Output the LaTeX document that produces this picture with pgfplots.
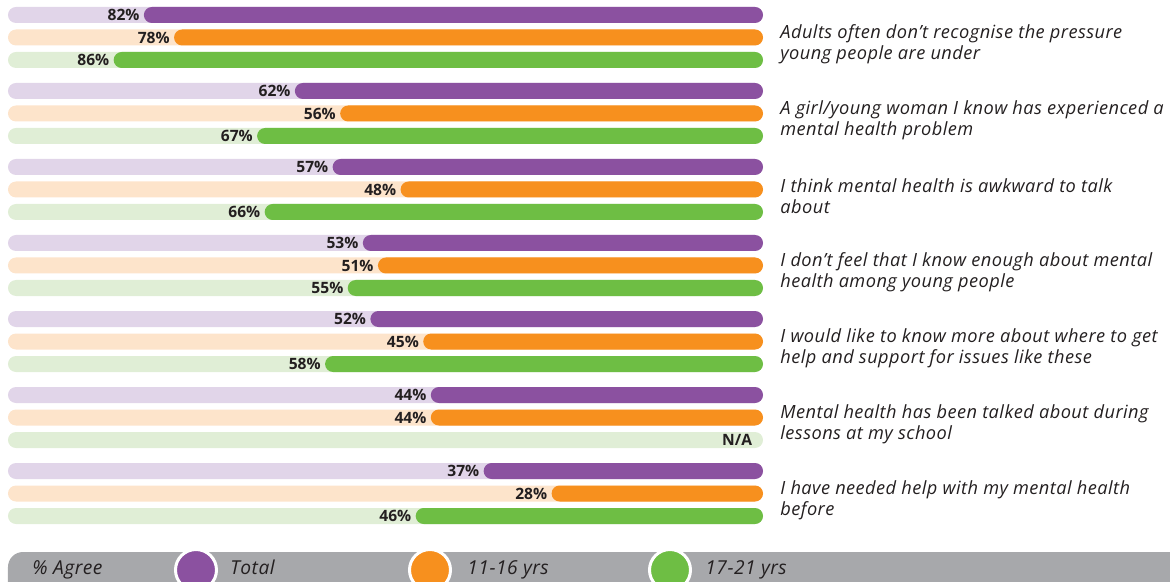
\documentclass[border=0pt]{standalone}
\usepackage{pgfplots}
\usepackage{pgfplotstable}
\pgfplotsset{compat=1.18}
\usepackage{fontspec}
\setmainfont{Open Sans}
\definecolor{cTot}{HTML}{8B51A0}
\definecolor{cYng}{HTML}{F7901E}
\definecolor{cOld}{HTML}{6EBE44}
\definecolor{lTot}{HTML}{E1D5E9}
\definecolor{lYng}{HTML}{FDE4CB}
\definecolor{lOld}{HTML}{E0EED6}
\definecolor{legGray}{HTML}{A7A8AB}
\definecolor{txt}{HTML}{231F20}

\tikzset{stmt/.style={anchor=west, align=left, inner sep=0pt, text=txt,
  font=\itshape\fontsize{9.1}{10.5}\selectfont\addfontfeatures{LetterSpace=2.5}},
  leg/.style={anchor=base west, inner sep=0pt, text=txt, font=\itshape\fontsize{9.6}{10}\selectfont\addfontfeatures{LetterSpace=2.5}}}

\pgfplotstableread{
y x
15 82
91 62
167 57
243 53
319 52
395 44
471 37
}\tot
\pgfplotstableread{
y x
37.5 78
113.5 56
189.5 48
265.5 51
341.5 45
417.5 44
493.5 28
}\yng
\pgfplotstableread{
y x
60 86
136 67
212 66
288 55
364 58
516 46
}\old
\pgfplotstableread{
y x
60 100
136 100
212 100
288 100
364 100
440 100
516 100
}\oldtrack

\begin{document}
\begin{tikzpicture}
\begin{axis}[scale only axis,
  width=377.5pt, height=265pt,
  xmin=0, xmax=100, ymin=0, ymax=530,
  x dir=reverse, y dir=reverse, hide axis, clip=false,
  xbar, bar width=16,
  every axis plot/.append style={draw=none, rounded corners=4pt, /pgf/bar shift=0pt},
  every node near coord/.append style={anchor=east, inner sep=0pt, xshift=-2pt,
    font=\bfseries\fontsize{7.8}{9}\selectfont, text=txt},
  /pgf/number format/assume math mode=true,
]
\addplot[fill=lTot] table[x expr=100, y=y] {\tot};
\addplot[fill=lYng] table[x expr=100, y=y] {\yng};
\addplot[fill=lOld] table[x=x, y=y] {\oldtrack};
\addplot[fill=cTot, nodes near coords={\pgfmathprintnumber{\pgfplotspointmeta}\%}, point meta=x] table[x=x, y=y] {\tot};
\addplot[fill=cYng, nodes near coords={\pgfmathprintnumber{\pgfplotspointmeta}\%}, point meta=x] table[x=x, y=y] {\yng};
\addplot[fill=cOld, nodes near coords={\pgfmathprintnumber{\pgfplotspointmeta}\%}, point meta=x] table[x=x, y=y] {\old};
\node[anchor=east, inner sep=0pt, font=\bfseries\fontsize{7.8}{9}\selectfont, text=txt] at (axis cs:1.4,440) {N/A};

\begin{scope}[shift={(axis cs:100,0)}, x=0.5pt, y=-0.5pt]
\path (-8,0) rectangle (1162,582);
\node[stmt] at (772,44) {Adults often don’t recognise the pressure\\young people are under};
\node[stmt] at (772,120) {A girl/young woman I know has experienced a\\mental health problem};
\node[stmt] at (772,196) {I think mental health is awkward to talk\\about};
\node[stmt] at (772,272) {I don’t feel that I know enough about mental\\health among young people};
\node[stmt] at (772,348) {I would like to know more about where to get\\help and support for issues like these};
\node[stmt] at (772,424) {Mental health has been talked about during\\lessons at my school};
\node[stmt] at (772,500) {I have needed help with my mental health\\before};
\begin{scope}
\clip (-8,0) rectangle (1162,582);
\fill[legGray, rounded corners=7.5pt] (0,552) rectangle (1200,620);
\filldraw[fill=cTot, draw=white, line width=1.5pt] (188,570) circle[radius=10.25pt];
\filldraw[fill=cYng, draw=white, line width=1.5pt] (422,570) circle[radius=10.25pt];
\filldraw[fill=cOld, draw=white, line width=1.5pt] (662,570) circle[radius=10.25pt];
\end{scope}
\node[leg] at (24,574) {\% Agree};
\node[leg] at (222,574) {Total};
\node[leg] at (459,574) {11-16 yrs};
\node[leg] at (697,574) {17-21 yrs};
\end{scope}
\end{axis}
\end{tikzpicture}
\end{document}
